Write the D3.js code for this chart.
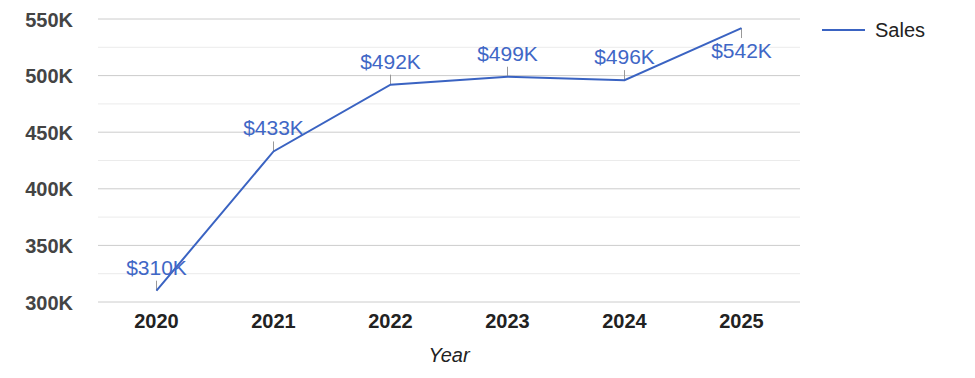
<!DOCTYPE html>
<html lang="en">
<head>
  <meta charset="UTF-8">
  <title>Sales by Year</title>
  <script src="https://d3js.org/d3.v7.min.js"></script>
  <style>
    body {
      margin: 0;
      background: #fff;
      font-family: Arial, "Liberation Sans", sans-serif;
    }
    svg { display: block; }
    .y-tick text { font-size: 20px; font-weight: bold; fill: #444; font-family: Arial, "Liberation Sans", sans-serif; }
    .x-tick text { font-size: 20px; font-weight: bold; fill: #222; font-family: Arial, "Liberation Sans", sans-serif; }
    .label { font-size: 21px; fill: #3f67c6; }
  </style>
</head>
<body>
<svg width="975" height="378"></svg>

<script>
const years = ["2020", "2021", "2022", "2023", "2024", "2025"];
const sales = [310, 433, 492, 499, 496, 542];   // thousands
const yTicks = [300, 350, 400, 450, 500, 550];
const minorTicks = [325, 375, 425, 475, 525];
// label above (1) or below (-1) the point
const labelSide = [1, 1, 1, 1, 1, -1];

const svg = d3.select("svg"),
      margin = {top: 19, right: 175, bottom: 76, left: 98},
      width = +svg.attr("width") - margin.left - margin.right,
      height = +svg.attr("height") - margin.top - margin.bottom;

const g = svg.append("g").attr("transform", `translate(${margin.left},${margin.top})`);

const x = d3.scaleBand().domain(years).range([0, width]);
const y = d3.scaleLinear().domain([300, 550]).range([height, 0]);

const lineColor = "#3a63c2";

// gridlines
g.selectAll(".minor")
  .data(minorTicks)
  .enter().append("line")
  .attr("x1", 0).attr("x2", width)
  .attr("y1", d => y(d)).attr("y2", d => y(d))
  .attr("stroke", "#ebebeb");

g.selectAll(".major")
  .data(yTicks)
  .enter().append("line")
  .attr("x1", 0).attr("x2", width)
  .attr("y1", d => y(d)).attr("y2", d => y(d))
  .attr("stroke", "#cccccc");

// y axis labels
const yAxis = g.append("g")
  .attr("class", "y-tick")
  .call(d3.axisLeft(y).tickValues(yTicks).tickSize(0).tickPadding(25).tickFormat(d => d + "K"));
yAxis.select(".domain").remove();
yAxis.selectAll("text").attr("dy", "0.35em");

// x axis labels
const xAxis = g.append("g")
  .attr("class", "x-tick")
  .attr("transform", `translate(0,${height})`)
  .call(d3.axisBottom(x).tickSize(0).tickPadding(12));
xAxis.select(".domain").remove();

svg.append("text")
  .attr("x", margin.left + width / 2)
  .attr("y", margin.top + height + 60)
  .attr("text-anchor", "middle")
  .style("font-size", "20px")
  .style("font-style", "italic")
  .style("fill", "#222")
  .text("Year");

const pts = years.map((yr, i) => ({year: yr, value: sales[i], side: labelSide[i]}));
const cx = d => x(d.year) + x.bandwidth() / 2;

// leader ticks
g.selectAll(".leader")
  .data(pts)
  .enter().append("line")
  .attr("x1", cx).attr("x2", cx)
  .attr("y1", d => y(d.value))
  .attr("y2", d => y(d.value) - d.side * 10)
  .attr("stroke", "#999")
  .attr("stroke-width", 1);

// line
const line = d3.line().x(cx).y(d => y(d.value));
g.append("path")
  .datum(pts)
  .attr("fill", "none")
  .attr("stroke", lineColor)
  .attr("stroke-width", 2)
  .attr("d", line);

// labels
g.selectAll(".label")
  .data(pts)
  .enter().append("text")
  .attr("class", "label")
  .attr("x", cx)
  .attr("y", d => d.side > 0 ? y(d.value) - 16 : y(d.value) + 30)
  .attr("text-anchor", "middle")
  .text(d => "$" + d.value + "K");

// legend
const legend = svg.append("g").attr("transform", `translate(822,30)`);
legend.append("line")
  .attr("x1", 0).attr("x2", 43)
  .attr("stroke", lineColor).attr("stroke-width", 2);
legend.append("text")
  .attr("x", 53).attr("y", 0).attr("dy", "0.35em")
  .style("font-size", "20px").style("fill", "#222")
  .text("Sales");
</script>
</body>
</html>
